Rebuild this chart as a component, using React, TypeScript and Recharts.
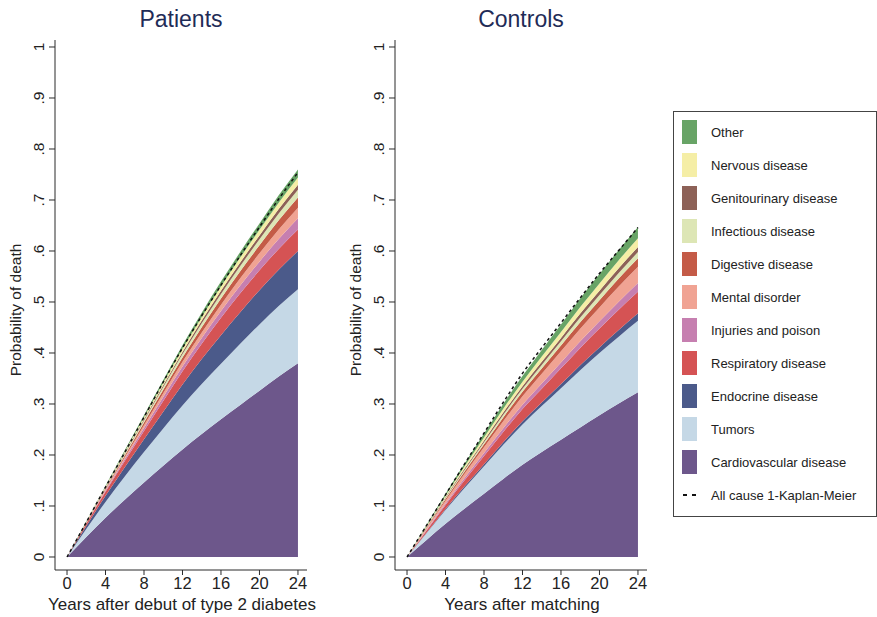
import React from 'react';
import { ComposedChart, Area, Line, XAxis, YAxis } from 'recharts';

const YEARS = [0, 2, 4, 6, 8, 10, 12, 14, 16, 18, 20, 22, 24];
const X_TICKS = [0, 4, 8, 12, 16, 20, 24];
const Y_TICKS = [0, 0.1, 0.2, 0.3, 0.4, 0.5, 0.6, 0.7, 0.8, 0.9, 1];

const CAUSES = [
  { key: 'cardio', name: 'Cardiovascular disease', color: '#6d578b' },
  { key: 'tumors', name: 'Tumors', color: '#c5d8e6' },
  { key: 'endocrine', name: 'Endocrine disease', color: '#4b5a8a' },
  { key: 'respiratory', name: 'Respiratory disease', color: '#d55354' },
  { key: 'injuries', name: 'Injuries and poison', color: '#c67fb0' },
  { key: 'mental', name: 'Mental disorder', color: '#f0a393' },
  { key: 'digestive', name: 'Digestive disease', color: '#c45b47' },
  { key: 'infectious', name: 'Infectious disease', color: '#dde6b5' },
  { key: 'genito', name: 'Genitourinary disease', color: '#8d6157' },
  { key: 'nervous', name: 'Nervous disease', color: '#f5eea6' },
  { key: 'other', name: 'Other', color: '#68a466' },
];

// Patients: cumulative incidence contributed by each cause
const patCardio = [0, 0.039, 0.077, 0.112, 0.146, 0.179, 0.211, 0.241, 0.27, 0.298, 0.326, 0.354, 0.38];
const patTumors = [0, 0.016, 0.031, 0.046, 0.06, 0.073, 0.086, 0.098, 0.109, 0.12, 0.13, 0.138, 0.145];
const patEndocrine = [0, 0.006, 0.012, 0.018, 0.025, 0.033, 0.041, 0.049, 0.056, 0.062, 0.067, 0.071, 0.075];
const patRespiratory = [0, 0.004, 0.008, 0.012, 0.016, 0.021, 0.026, 0.03, 0.034, 0.037, 0.039, 0.041, 0.042];
const patInjuries = [0, 0.0009, 0.0022, 0.0039, 0.0058, 0.0076, 0.0095, 0.0113, 0.0132, 0.0151, 0.0171, 0.0195, 0.022];
const patMental = [0, 0.0009, 0.0021, 0.0037, 0.0055, 0.0073, 0.0091, 0.0109, 0.0126, 0.0144, 0.0164, 0.0187, 0.021];
const patDigestive = [0, 0.0009, 0.002, 0.0036, 0.0053, 0.007, 0.0087, 0.0104, 0.0121, 0.0138, 0.0156, 0.0179, 0.02];
const patInfectious = [0, 0.0006, 0.0015, 0.0027, 0.0039, 0.0052, 0.0065, 0.0077, 0.009, 0.0103, 0.0117, 0.0133, 0.015];
const patGenito = [0, 0.0004, 0.001, 0.0018, 0.0026, 0.0035, 0.0043, 0.0052, 0.006, 0.0069, 0.0078, 0.0089, 0.01];
const patNervous = [0, 0.0006, 0.0014, 0.0025, 0.0037, 0.0049, 0.0061, 0.0073, 0.0084, 0.0096, 0.0109, 0.0125, 0.014];
const patOther = [0, 0.0007, 0.0016, 0.0029, 0.0042, 0.0056, 0.0069, 0.0083, 0.0097, 0.011, 0.0125, 0.0143, 0.016];
const patKM = [0, 0.068, 0.137, 0.205, 0.274, 0.343, 0.41, 0.473, 0.533, 0.591, 0.647, 0.702, 0.754];

// Controls
const conCardio = [0, 0.033, 0.065, 0.095, 0.124, 0.153, 0.181, 0.206, 0.23, 0.254, 0.278, 0.301, 0.323];
const conTumors = [0, 0.013, 0.027, 0.041, 0.054, 0.067, 0.079, 0.09, 0.101, 0.112, 0.122, 0.131, 0.14];
const conEndocrine = [0, 0.001, 0.002, 0.003, 0.004, 0.005, 0.006, 0.007, 0.008, 0.01, 0.011, 0.013, 0.015];
const conRespiratory = [0, 0.004, 0.008, 0.012, 0.016, 0.02, 0.024, 0.027, 0.031, 0.034, 0.037, 0.04, 0.042];
const conInjuries = [0, 0.0015, 0.003, 0.0044, 0.0059, 0.0074, 0.0087, 0.0102, 0.0115, 0.013, 0.0143, 0.0157, 0.017];
const conMental = [0, 0.0028, 0.0055, 0.0083, 0.0111, 0.0139, 0.0164, 0.0192, 0.0217, 0.0244, 0.027, 0.0295, 0.032];
const conDigestive = [0, 0.0015, 0.003, 0.0044, 0.0059, 0.0074, 0.0087, 0.0102, 0.0115, 0.013, 0.0143, 0.0157, 0.017];
const conInfectious = [0, 0.001, 0.0021, 0.0031, 0.0041, 0.0052, 0.0061, 0.0071, 0.0081, 0.0091, 0.0101, 0.011, 0.012];
const conGenito = [0, 0.0009, 0.0017, 0.0026, 0.0035, 0.0043, 0.0051, 0.006, 0.0068, 0.0077, 0.0085, 0.0092, 0.01];
const conNervous = [0, 0.0015, 0.003, 0.0044, 0.0059, 0.0074, 0.0087, 0.0102, 0.0115, 0.013, 0.0143, 0.0157, 0.017];
const conOther = [0, 0.0019, 0.0038, 0.0057, 0.0076, 0.0095, 0.0112, 0.0131, 0.0149, 0.0168, 0.0185, 0.0202, 0.022];
const conKM = [0, 0.061, 0.122, 0.183, 0.243, 0.303, 0.36, 0.41, 0.459, 0.508, 0.556, 0.601, 0.646];

function buildRows(series: Record<string, number[]>, km: number[]) {
  return YEARS.map((year, i) => {
    const row: Record<string, number> = { year, km: km[i] };
    Object.keys(series).forEach((k) => {
      row[k] = series[k][i];
    });
    return row;
  });
}

const patientsData = buildRows(
  {
    cardio: patCardio, tumors: patTumors, endocrine: patEndocrine, respiratory: patRespiratory,
    injuries: patInjuries, mental: patMental, digestive: patDigestive, infectious: patInfectious,
    genito: patGenito, nervous: patNervous, other: patOther,
  },
  patKM
);
const controlsData = buildRows(
  {
    cardio: conCardio, tumors: conTumors, endocrine: conEndocrine, respiratory: conRespiratory,
    injuries: conInjuries, mental: conMental, digestive: conDigestive, infectious: conInfectious,
    genito: conGenito, nervous: conNervous, other: conOther,
  },
  conKM
);

const FONT = '"Liberation Sans", Arial, Helvetica, sans-serif';
const AXIS_COLOR = '#2b2b2b';

const fmtY = (v: number) => {
  if (v === 0) return '0';
  if (v === 1) return '1';
  return '.' + Math.round(v * 10);
};

const YTick = (props: any) => {
  const { x, y, payload } = props;
  return (
    <text
      x={x}
      y={y}
      transform={`rotate(-90, ${x}, ${y})`}
      textAnchor="middle"
      fontSize={15.5}
      fontFamily={FONT}
      fill="#222"
    >
      {fmtY(payload.value)}
    </text>
  );
};

function Panel({ data, title, xTitle, left }: { data: any[]; title: string; xTitle: string; left: number }) {
  return (
    <div style={{ position: 'absolute', left, top: 0, width: 340, height: 617 }}>
      <div
        style={{
          position: 'absolute', left: 55, width: 252, top: 6, textAlign: 'center',
          fontFamily: FONT, fontSize: 23, color: '#1f2c57',
        }}
      >
        {title}
      </div>
      <div
        style={{
          position: 'absolute', left: 16, top: 310, width: 0, height: 0,
        }}
      >
        <div
          style={{
            position: 'absolute', left: -150, top: -10, width: 300, textAlign: 'center',
            transform: 'rotate(-90deg)', fontFamily: FONT, fontSize: 15.5, color: '#222', lineHeight: '20px',
          }}
        >
          Probability of death
        </div>
      </div>
      <div
        style={{
          position: 'absolute', left: 0, width: 364, top: 595, textAlign: 'center',
          fontFamily: FONT, fontSize: 17, color: '#222', lineHeight: '20px',
        }}
      >
        {xTitle}
      </div>
      <ComposedChart
        width={340}
        height={617}
        data={data}
        margin={{ top: 40, right: 33, bottom: 17, left: 10 }}
      >
        <XAxis
          dataKey="year"
          type="number"
          domain={[-1.25, 24.94]}
          ticks={X_TICKS}
          allowDataOverflow
          height={30}
          tickSize={5}
          tickMargin={2}
          stroke={AXIS_COLOR}
          tick={{ fontSize: 16.5, fontFamily: FONT, fill: '#222' }}
        />
        <YAxis
          type="number"
          domain={[-0.0255, 1.0137]}
          ticks={Y_TICKS}
          allowDataOverflow
          width={45}
          tickSize={6}
          tickMargin={5}
          stroke={AXIS_COLOR}
          tick={<YTick />}
        />
        {CAUSES.map((c) => (
          <Area
            key={c.key}
            dataKey={c.key}
            name={c.name}
            stackId="1"
            type="monotone"
            fill={c.color}
            fillOpacity={1}
            stroke="none"
            isAnimationActive={false}
          />
        ))}
        <Line
          dataKey="km"
          name="All cause 1-Kaplan-Meier"
          type="monotone"
          stroke="#111"
          strokeWidth={1.5}
          strokeDasharray="3 3"
          dot={false}
          isAnimationActive={false}
        />
      </ComposedChart>
    </div>
  );
}

function LegendBox() {
  const items = [...CAUSES].reverse();
  return (
    <div
      style={{
        position: 'absolute', left: 673, top: 111, width: 202, height: 404,
        border: '1px solid #444', background: '#fff', fontFamily: FONT,
      }}
    >
      {items.map((c, i) => (
        <div key={c.key} style={{ position: 'absolute', left: 8, top: 8 + i * 33, height: 24, display: 'flex', alignItems: 'center' }}>
          <div style={{ width: 15, height: 24, background: c.color }} />
          <span style={{ marginLeft: 14, fontSize: 13, color: '#222', whiteSpace: 'nowrap' }}>{c.name}</span>
        </div>
      ))}
      <div style={{ position: 'absolute', left: 8, top: 8 + 11 * 33, height: 24, display: 'flex', alignItems: 'center' }}>
        <svg width={15} height={24}>
          <line x1={1} y1={12} x2={15} y2={12} stroke="#111" strokeWidth={1.8} strokeDasharray="4 5" />
        </svg>
        <span style={{ marginLeft: 14, fontSize: 13, color: '#222', whiteSpace: 'nowrap' }}>All cause 1-Kaplan-Meier</span>
      </div>
    </div>
  );
}

export default function App() {
  return (
    <div style={{ position: 'fixed', left: 0, top: 0, width: 877, height: 617, background: '#fff', overflow: 'hidden' }}>
      <Panel data={patientsData} title="Patients" xTitle="Years after debut of type 2 diabetes" left={0} />
      <Panel data={controlsData} title="Controls" xTitle="Years after matching" left={340} />
      <LegendBox />
    </div>
  );
}
